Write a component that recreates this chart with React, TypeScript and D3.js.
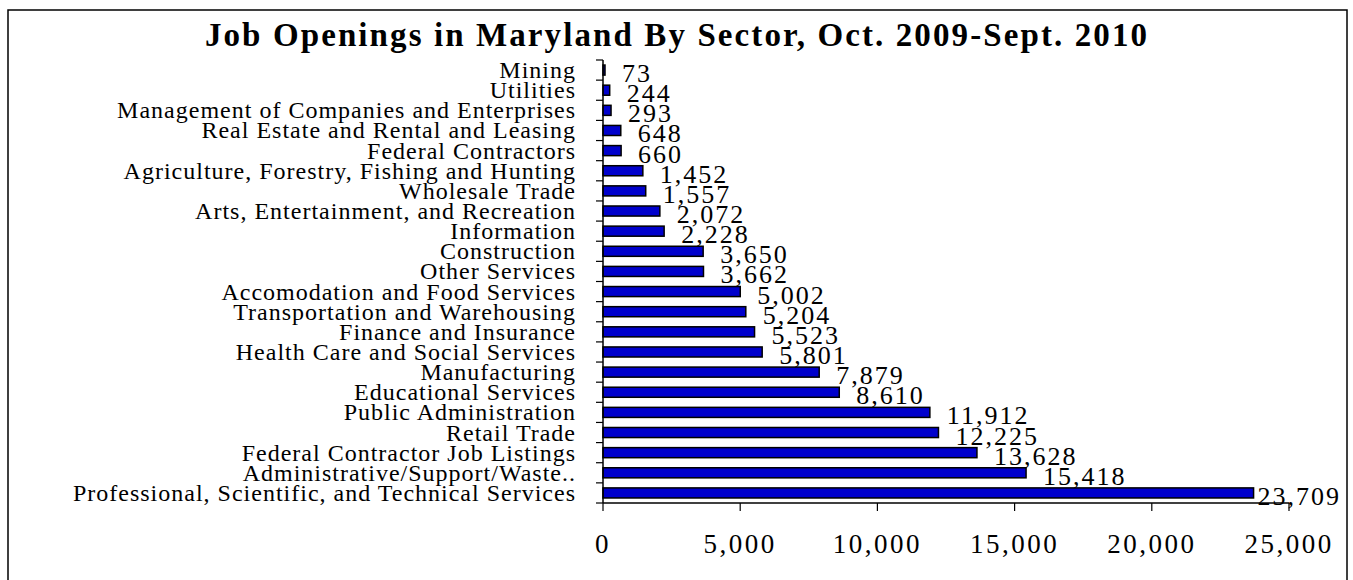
import React from "react";
import * as d3 from "d3";

const categories: string[] = [
  "Mining",
  "Utilities",
  "Management of Companies and Enterprises",
  "Real Estate and Rental and Leasing",
  "Federal Contractors",
  "Agriculture, Forestry, Fishing and Hunting",
  "Wholesale Trade",
  "Arts, Entertainment, and Recreation",
  "Information",
  "Construction",
  "Other Services",
  "Accomodation and Food Services",
  "Transportation and Warehousing",
  "Finance and Insurance",
  "Health Care and Social Services",
  "Manufacturing",
  "Educational Services",
  "Public Administration",
  "Retail Trade",
  "Federal Contractor Job Listings",
  "Administrative/Support/Waste..",
  "Professional, Scientific, and Technical Services",
];

const openings: number[] = [
  73, 244, 293, 648, 660, 1452, 1557, 2072, 2228, 3650, 3662, 5002, 5204, 5523,
  5801, 7879, 8610, 11912, 12225, 13628, 15418, 23709,
];

const xTicks: number[] = [0, 5000, 10000, 15000, 20000, 25000];

const title = "Job Openings in Maryland By Sector, Oct. 2009-Sept. 2010";

const W = 1353;
const H = 580;
const FONT = "'Liberation Serif', 'Times New Roman', serif";

export default function App() {
  const x = d3.scaleLinear().domain([0, 25000]).range([603, 1289]);
  const y = d3.scaleBand<string>().domain(categories).range([60, 503]).paddingInner(0.5).paddingOuter(0.25);
  const bandStep = y.step();
  const fmt = d3.format(",");
  const rightLimit = 1341;

  return (
    <svg
      width={W}
      height={H}
      style={{ position: "fixed", left: 0, top: 0, background: "#fff" }}
      fontFamily={FONT}
    >
      <rect x={0} y={0} width={W} height={H} fill="#fff" />
      <rect x={8} y={10} width={1339} height={620} fill="none" stroke="#000" strokeWidth={1.5} />
      <text
        x={677}
        y={46}
        textAnchor="middle"
        fontWeight="bold"
        fontSize={33}
        letterSpacing={2.1}
        fill="#000"
      >
        {title}
      </text>

      {/* bars */}
      {categories.map((c, i) => (
        <rect
          key={"b" + c}
          x={x(0)}
          y={y(c)!}
          width={x(openings[i]) - x(0)}
          height={y.bandwidth()}
          fill="#0000CC"
          stroke="#000"
          strokeWidth={1.5}
        />
      ))}

      {/* y axis */}
      <line x1={x(0)} x2={x(0)} y1={60} y2={503} stroke="#000" strokeWidth={1.5} />
      {d3.range(categories.length + 1).map((k) => {
        const yy = 60 + k * bandStep;
        return <line key={"yt" + k} x1={x(0) - 7} x2={x(0)} y1={yy} y2={yy} stroke="#000" strokeWidth={1.2} />;
      })}
      {categories.map((c) => (
        <text
          key={"l" + c}
          x={576}
          y={y(c)! + y.bandwidth() / 2 + 8}
          textAnchor="end"
          fontSize={24}
          letterSpacing={1}
          fill="#000"
        >
          {c}
        </text>
      ))}

      {/* x axis */}
      <line x1={x(0)} x2={x(25000)} y1={503} y2={503} stroke="#000" strokeWidth={1.5} />
      {xTicks.map((t) => (
        <g key={"xt" + t}>
          <line x1={x(t)} x2={x(t)} y1={503} y2={511} stroke="#000" strokeWidth={1.2} />
          <text x={x(t)} y={553} textAnchor="middle" fontSize={27} letterSpacing={2.5} fill="#000">
            {fmt(t)}
          </text>
        </g>
      ))}

      {/* value labels */}
      {categories.map((c, i) => {
        const label = fmt(openings[i]);
        const est = label.length * 15;
        const start = x(openings[i]) + 17;
        const clamp = start + est > rightLimit;
        return (
          <text
            key={"v" + c}
            x={clamp ? rightLimit : start}
            y={y(c)! + y.bandwidth() / 2 + 12}
            textAnchor={clamp ? "end" : "start"}
            fontSize={26}
            letterSpacing={2}
            fill="#000"
          >
            {label}
          </text>
        );
      })}
    </svg>
  );
}
